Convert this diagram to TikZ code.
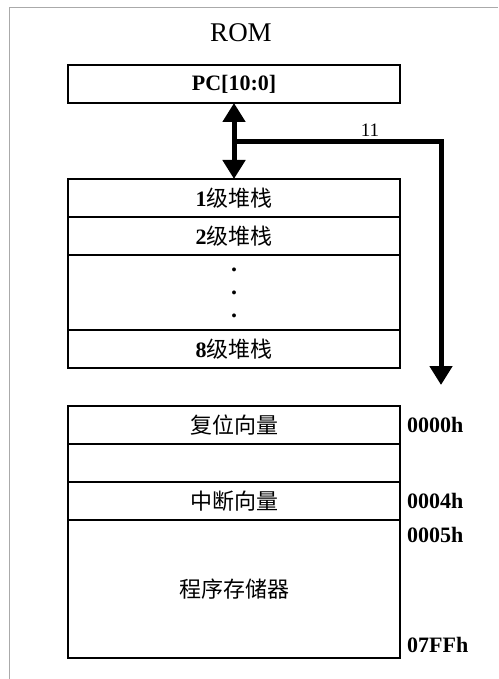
\documentclass[tikz,border=0pt]{standalone}
\usepackage{fontspec}
\setmainfont{Liberation Serif}
\newfontfamily\cjk{Noto Sans CJK SC}
\usetikzlibrary{positioning,arrows.meta}
\definecolor{framegray}{RGB}{170,170,170}
\tikzset{
    cell/.style={draw, line width=1.4pt, minimum width=332pt, minimum height=38pt,
        inner sep=0pt, outer sep=0pt, font=\fontsize{22}{22}\selectfont},
    bus/.style={line width=5pt},
    addr/.style={inner sep=0pt, font=\fontsize{22}{22}\selectfont\bfseries}
}

\begin{document}
\begin{tikzpicture}[x=1pt, y=-1pt, >={Triangle[width=22pt,length=19pt]}]
    \useasboundingbox (0,0) rectangle (498,679);
    \draw[framegray, line width=1pt] (9,679) -- (9,8) -- (498,8);

    % title and program counter
    \node[font=\fontsize{27}{27}\selectfont] (rom) at (241,33) {ROM};
    \node[cell] (pc) at (234,84) {\bfseries PC[10:0]};

    % stack
    \node[cell] (s1) at (234,198) {{\bfseries 1}{\cjk 级堆栈}};
    \node[cell, below=0pt of s1] (s2) {{\bfseries 2}{\cjk 级堆栈}};
    \node[cell, below=0pt of s2, minimum height=75pt, align=center,
        font=\fontsize{24}{23}\selectfont\bfseries] (sdots) {.\\.\\.};
    \node[cell, below=0pt of sdots] (s8) {{\bfseries 8}{\cjk 级堆栈}};

    % bus
    \coordinate (j) at (234,142);
    \coordinate (bend) at (441,142);
    \coordinate (tip) at (441,385);
    \draw[bus, <->] (pc) -- (s1);
    \draw[bus, ->, line join=miter] (j) -- (bend) -- (tip);
    \node[font=\fontsize{19}{19}\selectfont, anchor=base] (bits) at (370,137) {11};

    % program memory
    \node[cell] (m1) at (234,425) {\cjk 复位向量};
    \node[cell, below=0pt of m1] (m2) {};
    \node[cell, below=0pt of m2] (m3) {\cjk 中断向量};
    \node[cell, below=0pt of m3, minimum height=138pt] (m4) {\cjk 程序存储器};

    % addresses
    \node[addr, right=7pt of m1] (a0) {0000h};
    \node[addr, right=7pt of m3] (a4) {0004h};
    \node[addr, anchor=north west] (a5) at ([shift={(7,7)}]m4.north east) {0005h};
    \node[addr, anchor=base west] (a7) at ([shift={(7,-6)}]m4.south east) {07FFh};
\end{tikzpicture}
\end{document}
